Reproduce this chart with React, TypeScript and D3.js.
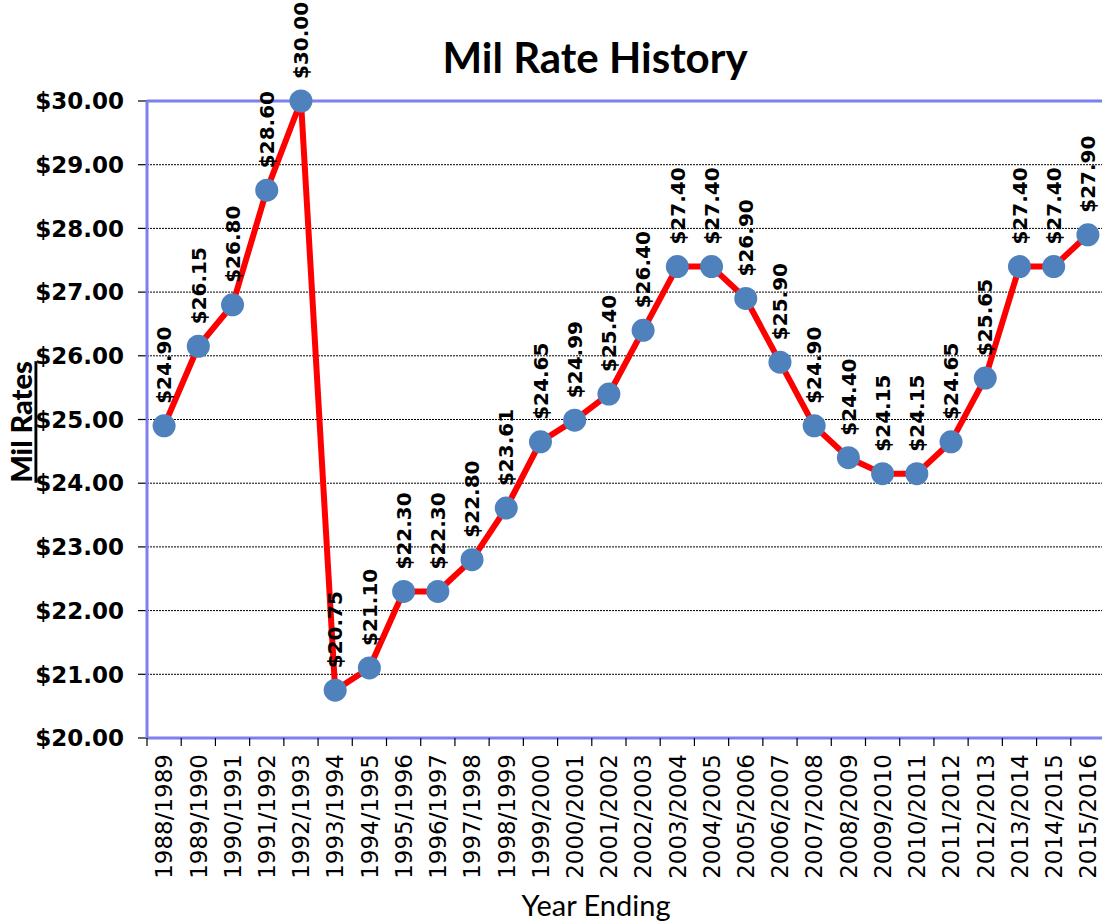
import React from "react";
import * as d3 from "d3";

// values
const years = [
  "1988/1989", "1989/1990", "1990/1991", "1991/1992", "1992/1993", "1993/1994", "1994/1995",
  "1995/1996", "1996/1997", "1997/1998", "1998/1999", "1999/2000", "2000/2001", "2001/2002",
  "2002/2003", "2003/2004", "2004/2005", "2005/2006", "2006/2007", "2007/2008", "2008/2009",
  "2009/2010", "2010/2011", "2011/2012", "2012/2013", "2013/2014", "2014/2015", "2015/2016",
];
const rates = [
  24.9, 26.15, 26.8, 28.6, 30.0, 20.75, 21.1, 22.3, 22.3, 22.8, 23.61, 24.65, 24.99, 25.4,
  26.4, 27.4, 27.4, 26.9, 25.9, 24.9, 24.4, 24.15, 24.15, 24.65, 25.65, 27.4, 27.4, 27.9,
];
const yTicks = [20, 21, 22, 23, 24, 25, 26, 27, 28, 29, 30];

const W = 1102;
const H = 921;
const left = 147;
const top = 101;
const bottom = 738;
const right = 1105;

const money = d3.format("$.2f");

const App = () => {
  const x = d3.scaleBand().domain(years).range([left, right]);
  const y = d3.scaleLinear().domain([20, 30]).range([bottom, top]);
  const cx = (d: string) => (x(d) as number) + x.bandwidth() / 2;

  const line = d3
    .line<number>()
    .x((d, i) => cx(years[i]))
    .y((d) => y(d));

  const labelFont = "DejaVu Sans";

  return (
    <svg width={W} height={H} style={{ position: "absolute", left: 0, top: 0, background: "#fff" }}>
      {/* title */}
      <text x={595} y={73} textAnchor="middle" fontFamily="Lato" fontWeight="bold" fontSize={42}>
        Mil Rate History
      </text>

      {/* grid */}
      {yTicks.slice(1, -1).map((t) => (
        <line key={t} x1={left} x2={W} y1={y(t)} y2={y(t)} stroke="#000" strokeWidth={1} strokeDasharray="2,1" />
      ))}

      {/* y ticks + labels */}
      {yTicks.map((t) => (
        <g key={t}>
          <line x1={left - 9} x2={left} y1={y(t)} y2={y(t)} stroke="#000" strokeWidth={1.2} />
          <text x={124} y={y(t)} dy="0.36em" textAnchor="end" fontFamily={labelFont} fontWeight="bold" fontSize={23}>
            {money(t)}
          </text>
        </g>
      ))}

      {/* plot border */}
      <line x1={left} x2={W} y1={top} y2={top} stroke="#7f7ff0" strokeWidth={3} />
      <line x1={left} x2={W} y1={bottom} y2={bottom} stroke="#7f7ff0" strokeWidth={3} />
      <line x1={left} x2={left} y1={top} y2={bottom} stroke="#7f7ff0" strokeWidth={3} />

      {/* x ticks + labels */}
      {years.map((d) => (
        <g key={d}>
          <line x1={x(d) as number} x2={x(d) as number} y1={bottom} y2={bottom + 8} stroke="#000" strokeWidth={1.2} />
          <text
            transform={`translate(${cx(d)},${bottom + 16}) rotate(-90)`}
            dy="0.36em"
            textAnchor="end"
            fontFamily={labelFont}
            fontSize={23}
          >
            {d}
          </text>
        </g>
      ))}

      {/* axis titles */}
      <text x={596} y={916} textAnchor="middle" fontFamily="Lato" fontSize={29}>
        Year Ending
      </text>
      <text
        transform="translate(22,422) rotate(-90)"
        dy="0.36em"
        textAnchor="middle"
        fontFamily="Lato"
        fontWeight={900}
        fontSize={29}
        textDecoration="underline"
      >
        Mil Rates
      </text>

      {/* series */}
      <path d={line(rates) as string} fill="none" stroke="#ff0000" strokeWidth={6} strokeLinejoin="round" />
      {rates.map((v, i) => (
        <circle key={i} cx={cx(years[i])} cy={y(v)} r={11.5} fill="#4f81bd" />
      ))}
      {rates.map((v, i) => (
        <text
          key={i}
          transform={`translate(${cx(years[i])},${y(v) - 22}) rotate(-90)`}
          dy="0.36em"
          textAnchor="start"
          fontFamily={labelFont}
          fontWeight="bold"
          fontSize={20}
        >
          {money(v)}
        </text>
      ))}
    </svg>
  );
};

export default App;
